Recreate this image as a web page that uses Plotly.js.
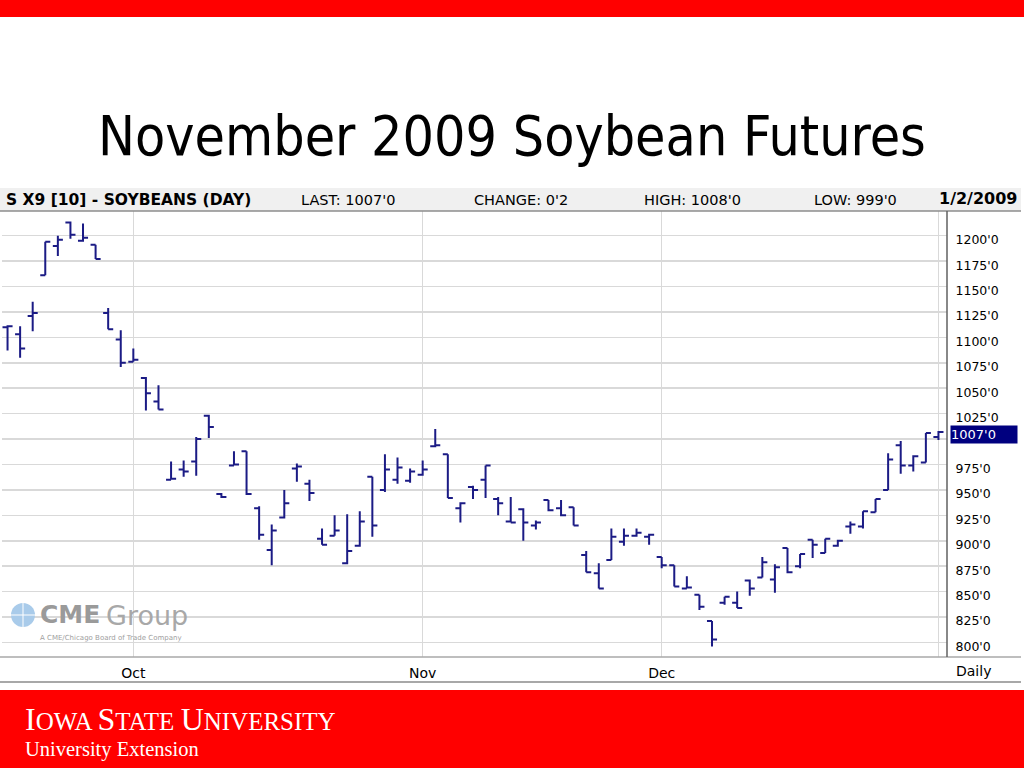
<!DOCTYPE html>
<html>
<head>
<meta charset="utf-8">
<script src="https://cdn.plot.ly/plotly-3.0.1.min.js"></script>
<style>
html,body{margin:0;padding:0;background:#fff;}
#chart{width:1024px;height:768px;}
</style>
</head>
<body>
<div id="chart"></div>
<script>
// ---- Data (cents per bushel), trading days Sep 17 2008 .. Jan 2 2009 ----
var dates = [
 '2008-09-17','2008-09-18','2008-09-19','2008-09-22','2008-09-23','2008-09-24','2008-09-25','2008-09-26','2008-09-29','2008-09-30',
 '2008-10-01','2008-10-02','2008-10-03','2008-10-06','2008-10-07','2008-10-08','2008-10-09','2008-10-10','2008-10-13','2008-10-14',
 '2008-10-15','2008-10-16','2008-10-17','2008-10-20','2008-10-21','2008-10-22','2008-10-23','2008-10-24','2008-10-27','2008-10-28',
 '2008-10-29','2008-10-30','2008-10-31',
 '2008-11-03','2008-11-04','2008-11-05','2008-11-06','2008-11-07','2008-11-10','2008-11-11','2008-11-12','2008-11-13','2008-11-14',
 '2008-11-17','2008-11-18','2008-11-19','2008-11-20','2008-11-21','2008-11-24','2008-11-25','2008-11-26','2008-11-28',
 '2008-12-01','2008-12-02','2008-12-03','2008-12-04','2008-12-05','2008-12-08','2008-12-09','2008-12-10','2008-12-11','2008-12-12',
 '2008-12-15','2008-12-16','2008-12-17','2008-12-18','2008-12-19','2008-12-22','2008-12-23','2008-12-24','2008-12-26','2008-12-29',
 '2008-12-30','2008-12-31','2009-01-02'
];
var openPrices = [
 1110,1103,1121,1161,1190,1213,1195,1191,1124,1098,
 1076,1060,1037,960,970,978,1023,946,974,988,
 932,891,923,971,956,902,905,878,895,963,
 950,960,959,
 965,993,985,932,953,960,941,919,931,915,
 940,932,933,886,868,881,899,905,904,
 884,876,853,847,821,839,839,861,864,862,
 893,875,901,888,895,914,914,928,950,994,
 974,977,1002
];
var highPrices = [
 1112,1111,1135,1194,1200,1214,1212,1191,1129,1107,
 1089,1061,1053,978,979,1002,1024,947,988,988,
 934,916,950,976,960,912,925,926,929,963,
 985,982,971,
 979,1010,985,938,954,974,943,943,932,920,
 940,940,933,890,878,912,912,912,907,
 884,876,865,847,821,845,850,862,884,877,
 893,887,901,902,901,919,929,941,986,998,
 984,1006,1008
];
var lowPrices = [
 1087,1080,1106,1161,1180,1197,1194,1177,1108,1071,
 1076,1028,1029,960,963,964,1001,942,974,945,
 901,876,922,958,939,896,905,877,894,904,
 948,956,957,
 964,992,942,918,941,942,925,918,900,911,
 929,924,915,869,853,881,895,904,896,
 873,855,853,832,796,837,834,846,864,849,
 868,873,883,888,894,907,912,928,950,966,
 968,977,999
];
var closePrices = [
 1111,1089,1124,1194,1196,1201,1198,1177,1108,1075,
 1078,1045,1029,961,968,1000,1012,943,975,946,
 906,910,937,973,947,896,910,890,919,915,
 970,972,968,
 970,994,942,937,950,974,937,918,918,918,
 930,925,915,869,853,904,905,908,906,
 876,855,854,835,803,845,834,853,879,874,
 869,887,896,902,900,916,929,941,980,974,
 983,1006,1007
];
var monthStarts = ['2008-10-01','2008-11-03','2008-12-01','2009-01-02'];
var monthLabels = ['Oct','Nov','Dec',''];
var yTickVals = [800,825,850,875,900,925,950,975,1000,1025,1050,1075,1100,1125,1150,1175,1200];
// the 1000'0 label sits under the last-price box, so it is left blank
var yTickText = ["800'0","825'0","850'0","875'0","900'0","925'0","950'0","975'0","","1025'0","1050'0","1075'0","1100'0","1125'0","1150'0","1175'0","1200'0"];
var lastPriceLabel = "1007'0";

// ---- geometry helpers (pixel -> paper) ----
var PL = 2, PR = 947, PT = 211, PB = 657;
function px(x){ return (x - PL) / (PR - PL); }
function py(y){ return (PB - y) / (PB - PT); }

var navy = '#1b1b85';
var trace = {
  type: 'ohlc',
  x: dates, open: openPrices, high: highPrices, low: lowPrices, close: closePrices,
  increasing: {line: {color: navy, width: 2}},
  decreasing: {line: {color: navy, width: 2}},
  tickwidth: 0.4,
  hoverinfo: 'skip',
  showlegend: false
};

var shapes = [
  {type:'rect', xref:'paper', yref:'paper', x0:px(0), x1:px(1024), y0:py(0), y1:py(17), fillcolor:'#ff0000', line:{width:0}},
  {type:'rect', xref:'paper', yref:'paper', x0:px(0), x1:px(1024), y0:py(690), y1:py(768), fillcolor:'#ff0000', line:{width:0}},
  {type:'rect', xref:'paper', yref:'paper', x0:px(0), x1:px(1021), y0:py(211), y1:py(188), fillcolor:'#f0f0f0', line:{width:0}},
  {type:'line', xref:'paper', yref:'paper', x0:px(0), x1:px(1021), y0:py(211), y1:py(211), line:{color:'#8c8c8c', width:1.5}},
  {type:'line', xref:'paper', yref:'paper', x0:px(0), x1:px(1021), y0:py(657), y1:py(657), line:{color:'#a8a8a8', width:1.5}},
  {type:'line', xref:'paper', yref:'paper', x0:px(0), x1:px(1021), y0:py(682), y1:py(682), line:{color:'#a8a8a8', width:2}},
  {type:'line', xref:'paper', yref:'paper', x0:px(947), x1:px(947), y0:py(211), y1:py(657), line:{color:'#606060', width:1.5}},
  {type:'circle', xref:'paper', yref:'paper', x0:px(11), x1:px(35), y0:py(627), y1:py(603), fillcolor:'#a9cbea', line:{width:0}},
  {type:'line', xref:'paper', yref:'paper', x0:px(11), x1:px(35), y0:py(615), y1:py(615), line:{color:'#ffffff', width:1}},
  {type:'line', xref:'paper', yref:'paper', x0:px(23), x1:px(23), y0:py(603), y1:py(627), line:{color:'#ffffff', width:1}}
];

var hdrFont = {family:'DejaVu Sans', size:14.5, color:'#000'};
function ann(x, y, text, font, xanchor, extra){
  var a = {xref:'paper', yref:'paper', x:px(x), y:py(y), text:text, font:font,
           xanchor:xanchor||'left', yanchor:'middle', showarrow:false};
  if (extra) for (var k in extra) a[k] = extra[k];
  return a;
}
var annotations = [
  ann(512, 136, 'November 2009 Soybean Futures', {family:'DejaVu Sans Condensed, DejaVu Sans', size:55, color:'#000'}, 'center'),
  ann(4, 200, '<b>S X9 [10] - SOYBEANS (DAY)</b>', {family:'DejaVu Sans', size:15.5, color:'#000'}, 'left'),
  ann(299, 200, "LAST: 1007'0", hdrFont, 'left'),
  ann(472, 200, "CHANGE: 0'2", hdrFont, 'left'),
  ann(642, 200, "HIGH: 1008'0", hdrFont, 'left'),
  ann(812, 200, "LOW: 999'0", hdrFont, 'left'),
  ann(1019, 199, '<b>1/2/2009</b>', {family:'DejaVu Sans', size:16, color:'#000'}, 'right'),
  ann(974, 671, 'Daily', {family:'DejaVu Sans', size:14, color:'#000'}, 'center'),
  ann(950, 434, lastPriceLabel, {family:'DejaVu Sans', size:13, color:'#ffffff'}, 'left',
      {bgcolor:'#00007f', width:66, height:17, align:'left', borderpad:0}),
  ann(38, 614, '<b>CME</b>', {family:'DejaVu Sans', size:25, color:'#9a9a9a'}, 'left'),
  ann(104, 615, 'Group', {family:'DejaVu Sans', size:27, color:'#a8a8a8'}, 'left'),
  ann(38, 638, 'A CME/Chicago Board of Trade Company', {family:'DejaVu Sans', size:7, color:'#a0a0a0'}, 'left'),
  ann(23, 719, '<span style="font-size:32px">I</span>OWA <span style="font-size:32px">S</span>TATE <span style="font-size:32px">U</span>NIVERSITY',
      {family:'Liberation Serif', size:25, color:'#ffffff'}, 'left'),
  ann(23, 749, 'University Extension', {family:'Liberation Serif', size:20.5, color:'#ffffff'}, 'left')
];

var layout = {
  width: 1024, height: 768,
  margin: {l: PL, r: 1024 - PR, t: PT, b: 768 - PB, pad: 0},
  paper_bgcolor: '#ffffff', plot_bgcolor: '#ffffff',
  showlegend: false,
  xaxis: {
    type: 'category', range: [-0.44, 74.68],
    tickmode: 'array', tickvals: monthStarts, ticktext: monthLabels,
    showgrid: true, gridcolor: '#d9d9d9', gridwidth: 1.5,
    showline: false, zeroline: false,
    ticks: 'outside', ticklen: 3, tickcolor: 'rgba(0,0,0,0)',
    tickfont: {family: 'DejaVu Sans', size: 14, color: '#000'},
    rangeslider: {visible: false}, fixedrange: true, automargin: false
  },
  yaxis: {
    side: 'right', range: [785.7, 1224.3],
    tickmode: 'array', tickvals: yTickVals, ticktext: yTickText,
    showgrid: true, gridcolor: '#d9d9d9', gridwidth: 1.5,
    showline: false, zeroline: false,
    ticks: 'outside', ticklen: 5, tickcolor: 'rgba(0,0,0,0)',
    ticklabelshift: 4,
    tickfont: {family: 'DejaVu Sans', size: 12.5, color: '#000'},
    fixedrange: true, automargin: false
  },
  shapes: shapes,
  annotations: annotations,
  hovermode: false
};

Plotly.newPlot('chart', [trace], layout, {displayModeBar: false, staticPlot: true});
</script>
</body>
</html>
